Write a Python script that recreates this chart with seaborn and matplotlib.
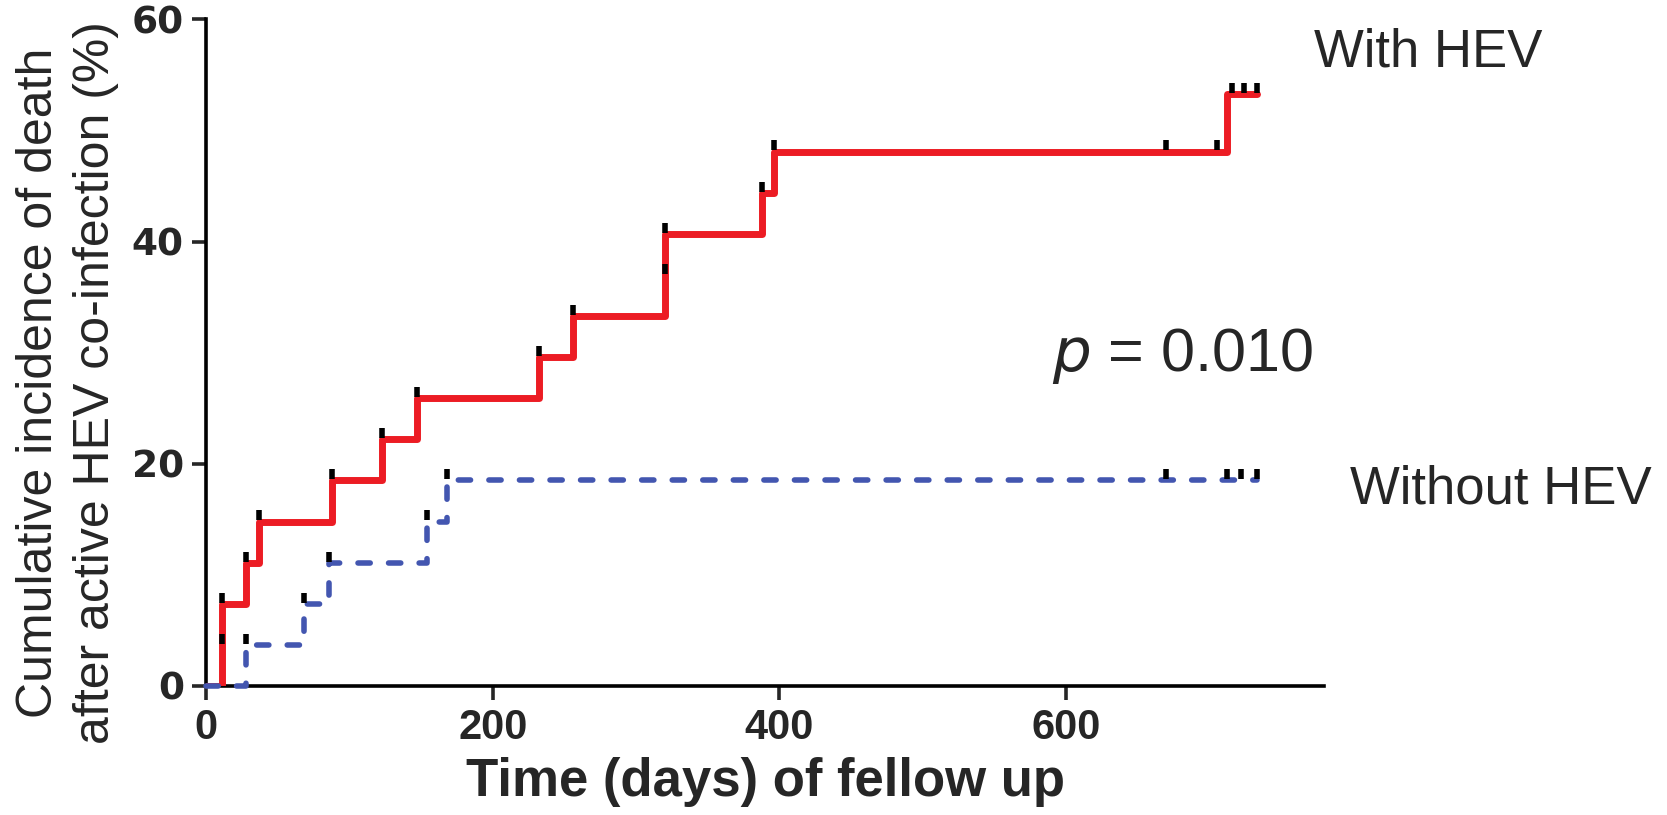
import matplotlib
matplotlib.use("Agg")
import matplotlib.pyplot as plt
import seaborn as sns
import pandas as pd

# ---------------------------------------------------
# DATA
# ---------------------------------------------------

red_days = [0, 11, 28, 37, 88, 123, 147, 232, 256, 320, 388, 396, 712, 733]
red_pct = [0, 7.4, 11.1, 14.8, 18.5, 22.2, 25.9, 29.6, 33.3, 40.7, 44.4, 48.1, 53.3, 53.3]

blue_days = [0, 28, 68, 86, 154, 168, 733]
blue_pct = [0, 3.7, 7.4, 11.1, 14.8, 18.5, 18.5]

red_cens_days = [11, 11, 28, 37, 88, 123, 147, 232, 256, 320, 320, 388, 396, 670, 705, 716, 724, 733]
red_cens_pct = [3.7, 7.4, 11.1, 14.8, 18.5, 22.2, 25.9, 29.6, 33.3, 37.0, 40.7, 44.4, 48.1, 48.1, 48.1, 53.3, 53.3, 53.3]

blue_cens_days = [28, 68, 86, 154, 168, 670, 712, 722, 733]
blue_cens_pct = [3.7, 7.4, 11.1, 14.8, 18.5, 18.5, 18.5, 18.5, 18.5]

x_ticks = [0, 200, 400, 600]
y_ticks = [0, 20, 40, 60]

RED = "#EC1C24"
BLUE = "#4356B0"
NARROW = ["Liberation Sans Narrow", "Liberation Sans"]

sns.set_style("ticks")
plt.rcParams["font.family"] = ["Liberation Sans", "DejaVu Sans"]

red_df = pd.DataFrame({"days": red_days, "pct": red_pct})
blue_df = pd.DataFrame({"days": blue_days, "pct": blue_pct})
red_c = pd.DataFrame({"days": red_cens_days, "pct": [p + 0.55 for p in red_cens_pct]})
blue_c = pd.DataFrame({"days": blue_cens_days, "pct": [p + 0.55 for p in blue_cens_pct]})

fig = plt.figure(figsize=(16.67, 8.15), dpi=100)
ax = fig.add_axes([0.1236, 0.1583, 0.6707, 0.818])

sns.lineplot(data=blue_df, x="days", y="pct", ax=ax, color=BLUE, linewidth=4,
             drawstyle="steps-post", estimator=None, sort=False,
             linestyle=(0, (2.2, 3.3)), dash_capstyle="round", clip_on=False, zorder=4)
sns.lineplot(data=red_df, x="days", y="pct", ax=ax, color=RED, linewidth=5,
             drawstyle="steps-post", estimator=None, sort=False, zorder=3)

# censor marks
for cdf in (red_c, blue_c):
    sns.scatterplot(data=cdf, x="days", y="pct", ax=ax, marker="|", s=50,
                    linewidth=4, color="black", zorder=5)

ax.set_xlim(0, 780)
ax.set_ylim(0, 60)
ax.set_xticks(x_ticks)
ax.set_yticks(y_ticks)
ax.set_xticklabels([str(t) for t in x_ticks], fontsize=30, fontweight="bold", family=NARROW)
ax.set_yticklabels([str(t) for t in y_ticks], fontsize=27, fontweight="bold",
                   family=["DejaVu Sans"])

for s in ("top", "right"):
    ax.spines[s].set_visible(False)
for s in ("left", "bottom"):
    ax.spines[s].set_linewidth(2.6)
    ax.spines[s].set_color("black")
ax.tick_params(axis="both", length=10, width=2.6, direction="out", pad=6)

ax.set_xlabel("Time (days) of fellow up", fontsize=38, fontweight="bold",
              family=NARROW, labelpad=6)
ax.set_ylabel("Cumulative incidence of death\nafter active HEV co-infection (%)",
              fontsize=36, family=NARROW, linespacing=1.3)
ax.yaxis.set_label_coords(-0.124, 0.455)
ax.yaxis.label.set_verticalalignment("center")

fig.text(0.788, 0.935, "With HEV", fontsize=38, va="center", ha="left")
fig.text(0.810, 0.400, "Without HEV", fontsize=38, va="center", ha="left")
fig.text(0.788, 0.563, "$p$ = 0.010", fontsize=44, va="center", ha="right")

plt.savefig("out.png", dpi=100)
plt.close()
